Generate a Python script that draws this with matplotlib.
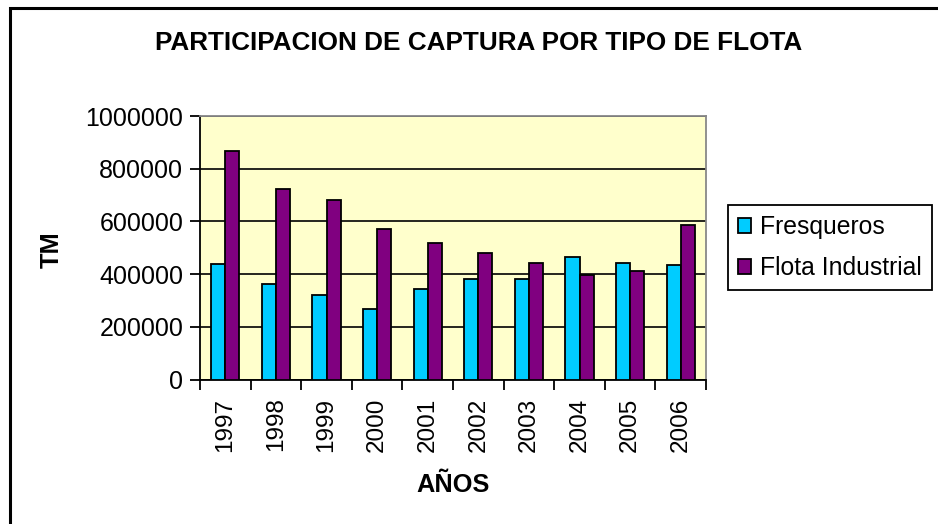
import matplotlib
matplotlib.use("Agg")
import matplotlib.pyplot as plt
import numpy as np
from matplotlib.patches import Rectangle

plt.rcParams['font.family'] = ['Liberation Sans', 'DejaVu Sans']

years = ["1997", "1998", "1999", "2000", "2001", "2002", "2003", "2004", "2005", "2006"]
fresqueros = [437000, 361000, 322000, 268000, 344000, 382000, 382000, 466000, 443000, 435000]
flota_industrial = [868000, 724000, 680000, 572000, 519000, 481000, 443000, 397000, 413000, 587000]
yticks = [0, 200000, 400000, 600000, 800000, 1000000]

W, H = 938, 524
fig = plt.figure(figsize=(W / 100, H / 100), dpi=100)
fig.patch.set_facecolor('white')

# outer chart frame
fig.add_artist(Rectangle((10 / W, -0.1), 1.2, (H - 8) / H + 0.1, transform=fig.transFigure,
                         fill=False, edgecolor='black', linewidth=2.2))

ax = fig.add_axes([200 / W, 1 - 379.5 / H, 506 / W, 263.5 / H])
ax.set_facecolor('#FFFFCC')

x = np.arange(len(years))
bw = 0.28
ax.bar(x - bw / 2, fresqueros, bw, color='#00CCFF', edgecolor='black', linewidth=1.3,
       label='Fresqueros', zorder=3)
ax.bar(x + bw / 2, flota_industrial, bw, color='#800080', edgecolor='black', linewidth=1.3,
       label='Flota Industrial', zorder=3)

ax.set_xlim(-0.5, len(years) - 0.5)
ax.set_ylim(0, 1000000)
ax.set_yticks(yticks)
ax.set_yticklabels([str(v) for v in yticks], fontsize=18)
ax.yaxis.grid(True, color='black', linewidth=1.2, zorder=1)
ax.set_axisbelow(True)

ax.set_xticks(np.arange(len(years) + 1) - 0.5)
ax.set_xticklabels([])
ax.set_xticks(x, minor=True)
ax.set_xticklabels(years, minor=True, rotation=90, fontsize=17.5)
ax.tick_params(axis='x', which='minor', length=0, pad=13)
ax.tick_params(axis='x', which='major', length=7, width=1.3, direction='out')
ax.tick_params(axis='y', length=7, width=1.3, direction='out', pad=5)

for s in ['left', 'bottom']:
    ax.spines[s].set_color('black')
    ax.spines[s].set_linewidth(1.3)
for s in ['top', 'right']:
    ax.spines[s].set_color('#888888')
    ax.spines[s].set_linewidth(1.3)

fig.text(478.5 / W, 1 - 43 / H, 'PARTICIPACION DE CAPTURA POR TIPO DE FLOTA',
         ha='center', va='center', fontsize=18.8, fontweight='bold')
fig.text(52 / W, 1 - 250 / H, 'TM', ha='center', va='center', rotation=90,
         fontsize=18.3, fontweight='bold')
fig.text(453 / W, 1 - 485 / H, 'AÑOS', ha='center', va='center',
         fontsize=18.3, fontweight='bold')

leg = fig.legend(loc='upper left', bbox_to_anchor=(728 / W, 1 - 205 / H), fontsize=17.8,
                 frameon=True, fancybox=False, edgecolor='black', framealpha=1,
                 handlelength=0.55, handleheight=0.55, handletextpad=0.35,
                 borderpad=0.4, labelspacing=0.7, borderaxespad=0)
leg.get_frame().set_linewidth(1.3)

fig.savefig('out.png', dpi=100)
